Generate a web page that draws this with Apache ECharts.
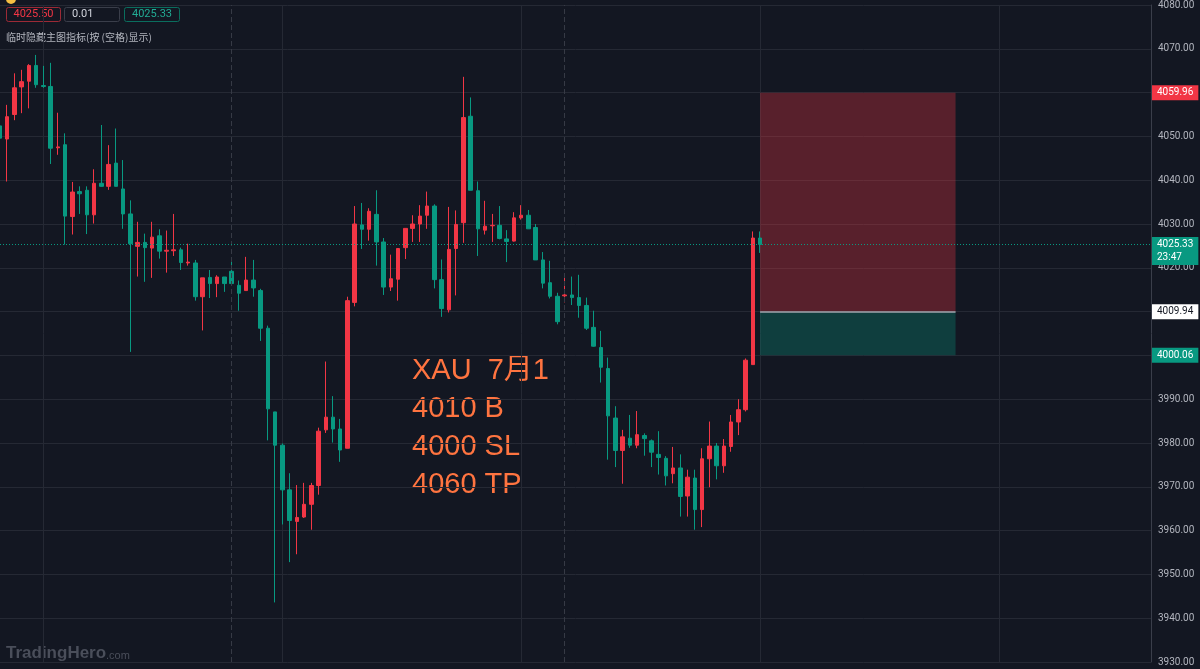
<!DOCTYPE html>
<html><head><meta charset="utf-8">
<script src="https://cdn.jsdelivr.net/npm/echarts@6/dist/echarts.min.js"></script>
<style>html,body{margin:0;padding:0;background:#131722;overflow:hidden}#c{width:1200px;height:669px}</style>
</head><body><div id="c"></div>
<script>
// ---- data (index 0 = partly hidden candle at the left edge) ----
const opens  = [4052.4,4049.4,4055.0,4061.3,4062.6,4066.2,4061.6,4061.4,4047.4,4048.1,
                4031.7,4037.4,4037.7,4032.1,4039.3,4038.6,4043.9,4038.0,4032.3,4024.9,
                4025.8,4024.5,4027.3,4023.8,4023.9,4024.1,4021.1,4021.1,4013.4,4017.8,
                4016.4,4017.9,4019.2,4016.0,4014.8,4017.2,4014.8,4006.2,3987.1,3979.5,
                3969.3,3962.1,3963.1,3966.0,3970.3,3983.0,3985.9,3983.2,3978.8,4012.1,
                4029.8,4028.8,4032.2,4025.9,4015.6,4017.4,4024.6,4029.0,4030.0,4032.0,
                4034.1,4017.3,4010.4,4024.4,4030.3,4054.6,4037.6,4028.6,4029.6,4029.7,
                4026.6,4026.1,4031.4,4032.0,4029.2,4021.8,4016.6,4013.5,4013.6,4013.8,
                4013.2,4011.4,4006.4,4001.8,3997.0,3985.7,3978.3,3981.1,3979.5,3981.7,
                3980.5,3977.4,3976.5,3973.0,3974.3,3967.9,3972.0,3964.8,3976.4,3979.3,
                3974.8,3979.2,3984.8,3987.6,3997.9,4026.8];
const closes = [4049.6,4054.5,4061.1,4062.5,4066.2,4061.8,4061.4,4047.3,4047.6,4031.8,
                4037.3,4036.9,4032.1,4039.3,4038.6,4043.6,4038.6,4032.3,4025.5,4025.8,
                4024.6,4027.0,4023.8,4024.0,4024.1,4021.2,4021.3,4013.4,4017.7,4016.4,
                4017.9,4016.4,4016.4,4014.2,4017.2,4015.4,4006.2,3987.8,3979.5,3969.3,
                3962.3,3963.0,3966.0,3970.3,3982.7,3985.9,3983.2,3978.4,4012.5,4030.0,
                4028.8,4032.9,4025.9,4015.6,4017.5,4024.4,4029.0,4030.0,4031.8,4034.1,
                4017.3,4010.7,4024.2,4029.9,4054.3,4037.7,4028.9,4029.5,4029.7,4026.7,
                4026.0,4031.4,4032.0,4028.9,4021.8,4016.5,4013.5,4007.7,4013.8,4013.2,
                4011.4,4006.2,4002.1,3997.3,3986.2,3978.3,3981.4,3979.5,3981.9,3981.0,
                3977.9,3976.7,3972.5,3974.3,3967.8,3972.2,3964.8,3976.4,3979.3,3974.8,
                3979.3,3984.8,3987.6,3998.9,4026.8,4025.33];
const lows   = [4049.0,4039.7,4053.7,4055.3,4056.4,4061.1,4061.1,4043.7,4045.8,4025.3,
                4027.6,4032.3,4027.7,4030.1,4038.5,4037.8,4038.6,4028.9,4000.8,4018.0,
                4016.8,4017.7,4022.1,4018.9,4022.7,4019.5,4020.5,4012.5,4005.7,4013.1,
                4013.3,4014.5,4016.3,4010.2,4014.8,4013.4,4003.3,3980.6,3943.6,3961.4,
                3952.8,3954.6,3962.9,3960.2,3968.2,3982.3,3980.1,3975.7,3978.8,4011.2,
                4024.3,4026.2,4020.5,4013.8,4014.7,4012.5,4022.0,4025.9,4025.9,4028.9,
                4015.3,4008.8,4009.8,4013.7,4025.7,4037.7,4022.7,4027.6,4025.9,4026.5,
                4021.3,4026.0,4031.0,4028.9,4021.8,4015.3,4013.0,4007.1,4012.1,4011.5,
                4008.6,4005.8,4002.0,3993.8,3976.2,3974.5,3970.7,3978.9,3978.8,3977.1,
                3974.5,3972.8,3970.3,3970.8,3963.2,3963.2,3960.2,3960.8,3969.9,3971.7,
                3973.2,3978.0,3981.8,3987.2,3997.9,4023.4];
const highs  = [4053.0,4057.2,4064.4,4065.2,4066.5,4068.6,4066.1,4066.8,4055.4,4050.7,
                4039.6,4038.6,4038.6,4042.5,4052.6,4048.0,4051.8,4044.6,4035.4,4030.5,
                4027.8,4030.5,4028.8,4028.5,4032.3,4024.6,4025.5,4021.8,4017.7,4019.5,
                4018.3,4017.9,4022.0,4017.1,4022.5,4021.8,4015.2,4006.8,3987.1,3979.9,
                3973.1,3970.4,3970.9,3970.9,3983.5,3998.6,3990.7,3985.5,4013.4,4034.1,
                4034.8,4033.6,4037.7,4026.8,4023.0,4024.4,4029.0,4032.0,4034.3,4037.4,
                4034.5,4021.9,4033.9,4033.1,4063.6,4058.9,4039.7,4035.3,4032.3,4034.1,
                4028.6,4032.7,4034.3,4033.2,4030.0,4023.6,4021.6,4014.3,4017.7,4018.0,
                4018.4,4013.2,4010.2,4005.6,3999.5,3988.4,3983.0,3986.4,3987.3,3982.2,
                3980.8,3982.7,3977.0,3979.1,3977.4,3973.9,3973.9,3978.8,3984.9,3980.0,
                3980.9,3986.4,3990.0,3999.3,4028.3,4028.3];

const slotCount = 160;                       // bar slots shown on the time axis (incl. empty future)
const categories = Array.from({length: slotCount}, (_, i) => String(i));
const yTicks = {min: 3930, max: 4080, step: 10};
const gridCandles = [6, 33];                 // first vertical grid candle, repeat every 33
const sessionBreaks = ['32', '78'];
const lastPrice = 4025.33, countdown = '23:47';
const targetPrice = 4059.96, entryPrice = 4009.94, stopPrice = 4000.06;
const boxStart = '105', boxEnd = '132';
const headerValues = ['4025.50', '0.01', '4025.33'];
const headerHint = '临时隐藏主图指标(按 (空格)显示)';
const noteLines = ['XAU  7月1', '4010 B', '4000 SL', '4060 TP'];

const UP = '#f23645', DOWN = '#089981', BG = '#131722', GRIDC = '#252934';
const candleData = opens.map((o, i) => [o, closes[i], lows[i], highs[i]]);

function priceLabel(text, bg, fg, lh) {
  return {show: true, position: 'end', distance: 1, formatter: text, backgroundColor: bg,
          color: fg, padding: [1, 5, 1, 5], fontSize: 10, fontFamily: 'Roboto', lineHeight: lh || 13};
}
const hidden = {color: 'rgba(0,0,0,0)', width: 0};

const chart = echarts.init(document.getElementById('c'));
chart.setOption({
  animation: false,
  backgroundColor: BG,
  grid: {left: -1.25, right: 49, top: 2, bottom: 7},
  xAxis: {
    type: 'category', data: categories, boundaryGap: false,
    axisLine: {show: false}, axisTick: {show: false}, axisLabel: {show: false},
    splitLine: {show: true, interval: (i) => i >= gridCandles[0] && (i - gridCandles[0]) % gridCandles[1] === 0,
                lineStyle: {color: GRIDC, width: 1}}
  },
  yAxis: {
    type: 'value', position: 'right', min: yTicks.min, max: yTicks.max, interval: yTicks.step,
    axisLine: {show: true, lineStyle: {color: '#3a3e4a'}}, axisTick: {show: false},
    axisLabel: {color: '#b2b5be', fontSize: 10, fontFamily: 'Roboto', margin: 7, formatter: v => v.toFixed(2)},
    splitLine: {lineStyle: {color: GRIDC, width: 1}}
  },
  series: [{
    type: 'candlestick', data: candleData, barWidth: 4, clip: true,
    itemStyle: {color: UP, color0: DOWN, borderColor: UP, borderColor0: DOWN, borderWidth: 1},
    markArea: {
      silent: true,
      data: [
        [{xAxis: boxStart, yAxis: targetPrice, itemStyle: {color: 'rgba(242,54,69,0.31)'}}, {xAxis: boxEnd, yAxis: entryPrice}],
        [{xAxis: boxStart, yAxis: entryPrice, itemStyle: {color: 'rgba(8,153,129,0.30)'}}, {xAxis: boxEnd, yAxis: stopPrice}]
      ]
    },
    markLine: {
      silent: true, symbol: 'none', precision: 2,
      data: [
        {xAxis: sessionBreaks[0], lineStyle: {color: '#363a45', type: [5, 3], width: 1}, label: {show: false}},
        {xAxis: sessionBreaks[1], lineStyle: {color: '#363a45', type: [5, 3], width: 1}, label: {show: false}},
        {yAxis: lastPrice, lineStyle: {color: DOWN, type: [1, 2], width: 1}, label: {show: false}},
        {yAxis: lastPrice - 1.5, lineStyle: hidden, label: priceLabel(lastPrice.toFixed(2) + '\n' + countdown, DOWN, '#ffffff', 13)},
        {yAxis: targetPrice, lineStyle: hidden, label: priceLabel(targetPrice.toFixed(2), UP, '#ffffff')},
        {yAxis: entryPrice, lineStyle: hidden, label: priceLabel(entryPrice.toFixed(2), '#ffffff', BG)},
        {yAxis: stopPrice, lineStyle: hidden, label: priceLabel(stopPrice.toFixed(2), DOWN, '#ffffff')},
        [{xAxis: boxStart, yAxis: entryPrice, lineStyle: {color: '#a3a6af', width: 1.5, type: 'solid'}, label: {show: false}},
         {xAxis: boxEnd, yAxis: entryPrice}]
      ]
    }
  }],
  graphic: [
    {type: 'circle', shape: {cx: 11, cy: -1, r: 5}, style: {fill: '#f5c043'}},
    {type: 'rect', shape: {x: 6.5, y: 7.5, width: 54, height: 14, r: 2}, style: {fill: BG, stroke: '#9c2a36', lineWidth: 1}},
    {type: 'rect', shape: {x: 64.5, y: 7.5, width: 55, height: 14, r: 2}, style: {fill: BG, stroke: '#3a3e4a', lineWidth: 1}},
    {type: 'rect', shape: {x: 124.5, y: 7.5, width: 55, height: 14, r: 2}, style: {fill: BG, stroke: '#0a6e5e', lineWidth: 1}},
    {type: 'text', x: 33.5, y: 14.5, style: {text: headerValues[0], fill: '#f23645', font: '11px Roboto', align: 'center', verticalAlign: 'middle', textAlign: 'center', textVerticalAlign: 'middle'}},
    {type: 'text', x: 72, y: 14.5, style: {text: headerValues[1], fill: '#d1d4dc', font: '11px Roboto', align: 'left', verticalAlign: 'middle', textAlign: 'left', textVerticalAlign: 'middle'}},
    {type: 'text', x: 152, y: 14.5, style: {text: headerValues[2], fill: '#22ab94', font: '11px Roboto', align: 'center', verticalAlign: 'middle', textAlign: 'center', textVerticalAlign: 'middle'}},
    {type: 'text', x: 6, y: 37, style: {text: headerHint, fill: '#b2b5be', font: '10px "Noto Sans CJK SC"', verticalAlign: 'middle', textVerticalAlign: 'middle'}},
    {type: 'text', x: 412, y: 351.5, style: {text: noteLines.join('\n'), fill: '#ff7440', font: '29px "Liberation Sans", "Noto Sans CJK SC"', lineHeight: 38, verticalAlign: 'top', textVerticalAlign: 'top'}},
    {type: 'text', x: 6, y: 653, style: {text: 'TradingHero', fill: '#4a4e5a', font: 'bold 17px "Liberation Sans"', verticalAlign: 'middle', textVerticalAlign: 'middle'}},
    {type: 'text', x: 106, y: 656, style: {text: '.com', fill: '#4a4e5a', font: '11px "Liberation Sans"', verticalAlign: 'middle', textVerticalAlign: 'middle'}}
  ]
});
</script></body></html>
